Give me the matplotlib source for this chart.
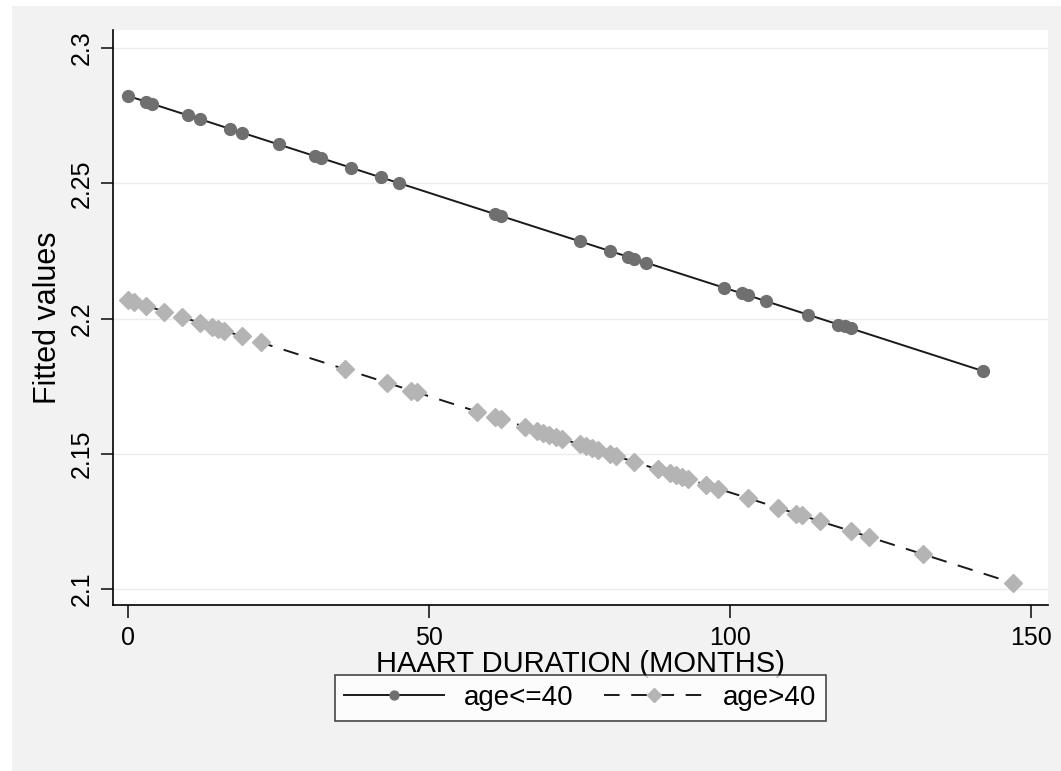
import matplotlib.pyplot as plt
from matplotlib.patches import Rectangle

# age<=40 group: HAART duration (months) and fitted values
young_months = [0, 3, 4, 10, 12, 17, 19, 25, 31, 32, 37, 42, 45, 61, 62, 75, 80,
                83, 84, 86, 99, 102, 103, 106, 113, 118, 119, 120, 142]
young_fit = [2.2823, 2.2802, 2.2794, 2.2751, 2.2737, 2.2701, 2.2687, 2.2644,
             2.2601, 2.2594, 2.2558, 2.2522, 2.2501, 2.2386, 2.2379, 2.2286,
             2.2250, 2.2229, 2.2222, 2.2207, 2.2114, 2.2093, 2.2086, 2.2064,
             2.2014, 2.1978, 2.1971, 2.1964, 2.1806]

# age>40 group
old_months = [0, 1, 3, 6, 9, 12, 14, 15, 16, 19, 22, 36, 43, 47, 48, 58, 61, 62,
              66, 68, 69, 70, 71, 72, 75, 76, 77, 78, 80, 81, 84, 88, 90, 91, 92,
              93, 96, 98, 103, 108, 111, 112, 115, 120, 123, 132, 147]
old_fit = [2.2069, 2.2062, 2.2048, 2.2026, 2.2005, 2.1984, 2.1969, 2.1962,
           2.1955, 2.1934, 2.1912, 2.1813, 2.1763, 2.1734, 2.1727, 2.1656,
           2.1635, 2.1628, 2.1599, 2.1585, 2.1578, 2.1571, 2.1563, 2.1556,
           2.1535, 2.1528, 2.1521, 2.1514, 2.1499, 2.1492, 2.1471, 2.1442,
           2.1428, 2.1421, 2.1414, 2.1407, 2.1385, 2.1371, 2.1336, 2.1300,
           2.1279, 2.1272, 2.1250, 2.1215, 2.1193, 2.1129, 2.1022]

x_ticks = [0, 50, 100, 150]
y_ticks = [2.1, 2.15, 2.2, 2.25, 2.3]
y_tick_labels = ['2.1', '2.15', '2.2', '2.25', '2.3']

plt.rcParams['font.family'] = ['Liberation Sans', 'DejaVu Sans']

fig = plt.figure(figsize=(10.61, 7.71), dpi=100, facecolor='white')
# light gray graph region behind everything
fig.add_artist(Rectangle((12 / 1061, 0), 1 - 12 / 1061, 1 - 6 / 771,
                         transform=fig.transFigure, facecolor='#f2f2f2',
                         edgecolor='none', zorder=-10))

ax = fig.add_axes([113 / 1061, 1 - 605 / 771, (1048 - 113) / 1061, (605 - 30) / 771])
ax.set_facecolor('white')

ax.plot(young_months, young_fit, color='#1a1a1a', lw=1.4, ls='-',
        marker='o', ms=8.5, mfc='#6f6f6f', mec='#6f6f6f', label='age<=40')
ax.plot(old_months, old_fit, color='#1a1a1a', lw=1.4, ls=(0, (8, 6)),
        marker='D', ms=9.5, mfc='#b4b4b4', mec='#b4b4b4', label='age>40')

ax.set_xlim(-2.5, 152.8)
ax.set_ylim(2.0941, 2.3067)

ax.set_xticks(x_ticks)
ax.set_yticks(y_ticks)
ax.set_yticklabels(y_tick_labels, rotation=90, va='center')
ax.tick_params(axis='both', labelsize=18, length=9, width=1.2, color='#1a1a1a')
ax.tick_params(axis='x', pad=6)
ax.tick_params(axis='y', pad=5)

ax.grid(axis='y', color='#ebebeb', lw=1)
ax.set_axisbelow(True)

for side in ['top', 'right']:
    ax.spines[side].set_visible(False)
ax.spines['left'].set_linewidth(1.2)
ax.spines['bottom'].set_linewidth(1.2)

ax.set_xlabel('HAART DURATION (MONTHS)', fontsize=21, labelpad=0)
ax.set_ylabel('Fitted values', fontsize=22, labelpad=5)

leg = ax.legend(loc='center', bbox_to_anchor=(0.5, -0.162), ncol=2,
                fontsize=20, frameon=True, fancybox=False, edgecolor='#1a1a1a',
                handlelength=3.6, handletextpad=0.7, numpoints=1,
                columnspacing=1.1, borderpad=0.35, markerscale=0.75)
leg.get_frame().set_linewidth(1.2)

fig.savefig('out.png', dpi=100, facecolor=fig.get_facecolor())
